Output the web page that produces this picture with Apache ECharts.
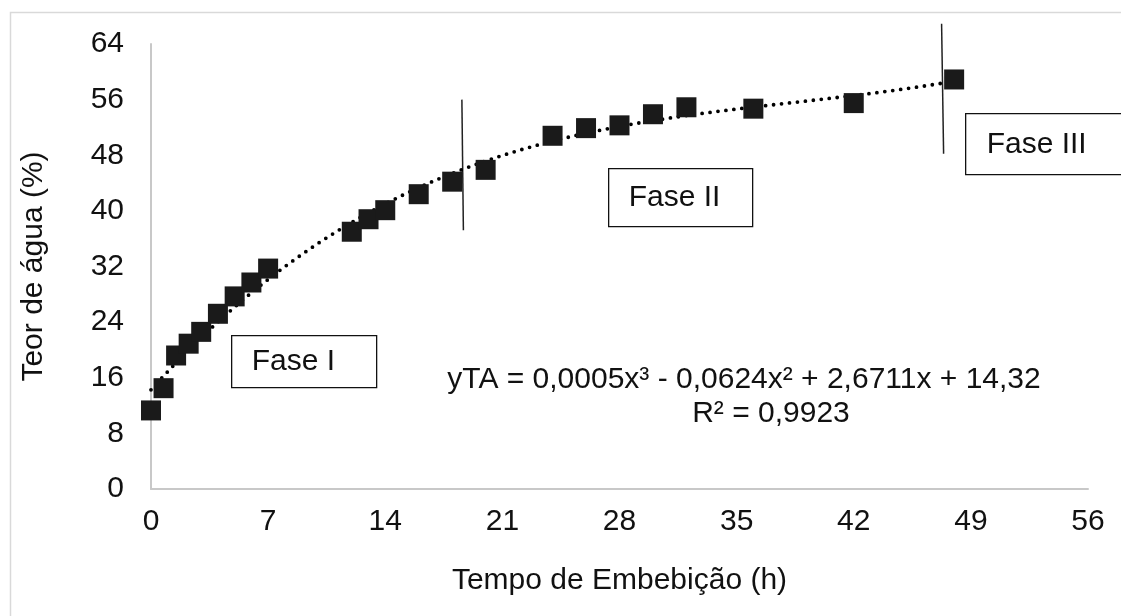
<!DOCTYPE html>
<html>
<head>
<meta charset="utf-8">
<script src="https://cdn.jsdelivr.net/npm/echarts@6/dist/echarts.min.js"></script>
<style>
  html, body { margin: 0; padding: 0; background: #fff; }
  #chart { width: 1121px; height: 616px; }
</style>
</head>
<body>
<div id="chart"></div>
<script>
// Imbibition time (h) and water content (%)
const tempoH = [0, 0.75, 1.5, 2.25, 3, 4, 5, 6, 7, 12, 13, 14, 16, 18, 20, 24, 26, 28, 30, 32, 36, 42, 48];
const teorAgua = [11.3, 14.5, 19.2, 20.9, 22.6, 25.2, 27.7, 29.7, 31.7, 37.0, 38.8, 40.1, 42.4, 44.2, 45.9, 50.8, 51.9, 52.3, 53.9, 54.9, 54.7, 55.5, 58.9];

// Axis ticks
const xTicks = [0, 7, 14, 21, 28, 35, 42, 49, 56];
const yTicks = [0, 8, 16, 24, 32, 40, 48, 56, 64];

// Phase boundaries (h): [top, bottom] x and y extents of each separator
const faseLimites = [
  { x: [18.58, 18.67], y: [56.0, 37.2] },
  { x: [47.25, 47.37], y: [66.9, 48.2] }
];

const equacao = 'yTA = 0,0005x³ - 0,0624x² + 2,6711x + 14,32';
const r2 = 'R² = 0,9923';

// Third-order polynomial least-squares fit (trendline)
function polyFit(xs, ys, deg) {
  const n = deg + 1;
  const A = [];
  for (let i = 0; i < n; i++) {
    A.push(new Array(n + 1).fill(0));
  }
  for (let k = 0; k < xs.length; k++) {
    for (let i = 0; i < n; i++) {
      for (let j = 0; j < n; j++) A[i][j] += Math.pow(xs[k], i + j);
      A[i][n] += ys[k] * Math.pow(xs[k], i);
    }
  }
  for (let i = 0; i < n; i++) {
    let p = i;
    for (let r = i + 1; r < n; r++) if (Math.abs(A[r][i]) > Math.abs(A[p][i])) p = r;
    [A[i], A[p]] = [A[p], A[i]];
    for (let r = 0; r < n; r++) {
      if (r === i) continue;
      const f = A[r][i] / A[i][i];
      for (let c = i; c <= n; c++) A[r][c] -= f * A[i][c];
    }
  }
  return A.map((row, i) => row[n] / row[i]);
}
const coef = polyFit(tempoH, teorAgua, 3);
const xMin = Math.min(...tempoH), xMax = Math.max(...tempoH);
const trend = [];
for (let i = 0; i <= 240; i++) {
  const x = xMin + (xMax - xMin) * i / 240;
  trend.push([x, coef[0] + coef[1] * x + coef[2] * x * x + coef[3] * x * x * x]);
}

const FONT = '"Liberation Sans", Arial, sans-serif';
const chart = echarts.init(document.getElementById('chart'));

const sepSeries = faseLimites.map(f => ({
  type: 'line',
  data: [[f.x[0], f.y[0]], [f.x[1], f.y[1]]],
  symbol: 'none',
  clip: false,
  silent: true,
  lineStyle: { color: '#222', width: 1.5 },
  z: 1
}));

chart.setOption({
  animation: false,
  backgroundColor: '#fff',
  grid: { left: 151, right: 33, top: 44, bottom: 127 },
  xAxis: {
    type: 'value', min: xTicks[0], max: xTicks[xTicks.length - 1], interval: 7,
    name: 'Tempo de Embebição (h)', nameLocation: 'middle', nameGap: 77,
    nameTextStyle: { fontFamily: FONT, fontSize: 30, color: '#111' },
    axisLine: { show: true, lineStyle: { color: '#c8c8c8', width: 2 } },
    axisTick: { show: false },
    splitLine: { show: false },
    axisLabel: { fontFamily: FONT, fontSize: 30, color: '#111', margin: 18 }
  },
  yAxis: {
    type: 'value', min: yTicks[0], max: yTicks[yTicks.length - 1], interval: 8,
    name: 'Teor de água (%)', nameLocation: 'middle', nameGap: 102,
    nameTextStyle: { fontFamily: FONT, fontSize: 30, color: '#111' },
    axisLine: { show: true, lineStyle: { color: '#c8c8c8', width: 2 } },
    axisTick: { show: false },
    splitLine: { show: false },
    axisLabel: { fontFamily: FONT, fontSize: 30, color: '#111', margin: 27 }
  },
  series: [
    {
      type: 'line',
      data: trend,
      symbol: 'none',
      smooth: false,
      silent: true,
      lineStyle: { color: '#000', width: 3.8, type: [0, 8], cap: 'round' },
      z: 2
    },
    {
      type: 'scatter',
      data: tempoH.map((x, i) => [x, teorAgua[i]]),
      symbol: 'rect',
      symbolSize: 20,
      itemStyle: { color: '#1a1a1a', opacity: 1 },
      z: 3
    },
    ...sepSeries
  ],
  graphic: [
    {
      type: 'rect', silent: true, z: -10,
      shape: { x: 10.5, y: 12.5, width: 1300, height: 800 },
      style: { fill: null, stroke: '#d9d9d9', lineWidth: 1.5 }
    },
    {
      type: 'group', left: 231, top: 335,
      children: [
        { type: 'rect', shape: { x: 0, y: 0, width: 145, height: 52 }, style: { fill: '#fff', stroke: '#111', lineWidth: 1.3 } },
        { type: 'text', x: 20, y: 26, style: { text: 'Fase I', font: '30px ' + FONT, fill: '#111', verticalAlign: 'middle' } }
      ]
    },
    {
      type: 'group', left: 608, top: 168,
      children: [
        { type: 'rect', shape: { x: 0, y: 0, width: 144, height: 58 }, style: { fill: '#fff', stroke: '#111', lineWidth: 1.3 } },
        { type: 'text', x: 20, y: 29, style: { text: 'Fase II', font: '30px ' + FONT, fill: '#111', verticalAlign: 'middle' } }
      ]
    },
    {
      type: 'group', left: 965, top: 113,
      children: [
        { type: 'rect', shape: { x: 0, y: 0, width: 200, height: 61 }, style: { fill: '#fff', stroke: '#111', lineWidth: 1.3 } },
        { type: 'text', x: 21, y: 31, style: { text: 'Fase III', font: '30px ' + FONT, fill: '#111', verticalAlign: 'middle' } }
      ]
    },
    {
      type: 'text', x: 744, y: 380,
      style: { text: equacao, font: '30px ' + FONT, fill: '#111', align: 'center', verticalAlign: 'middle' }
    },
    {
      type: 'text', x: 771, y: 414,
      style: { text: r2, font: '30px ' + FONT, fill: '#111', align: 'center', verticalAlign: 'middle' }
    }
  ]
});
</script>
</body>
</html>
